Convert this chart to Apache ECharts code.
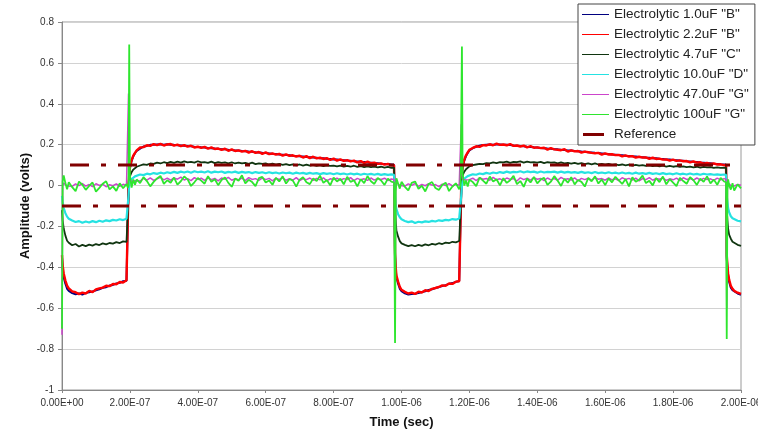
<!DOCTYPE html>
<html>
<head>
<meta charset="utf-8">
<script src="https://cdn.jsdelivr.net/npm/echarts@6/dist/echarts.min.js"></script>
<style>
  html, body { margin: 0; padding: 0; background: #ffffff; }
  #chart { width: 758px; height: 433px; }
</style>
</head>
<body>
<div id="chart"></div>
<script>
// Sample times in microseconds (scope capture, two cycles of the square drive)
const TIME_US = [
  // low phase 1
  0, 0.002, 0.005, 0.01, 0.015, 0.02,
  0.03, 0.04, 0.05, 0.06, 0.07, 0.08, 0.09, 0.10, 0.11, 0.12, 0.13, 0.14, 0.15, 0.16, 0.17, 0.18, 0.19,
  0.194,
  // rising edge + high phase 1
  0.196, 0.198, 0.2, 0.205, 0.21, 0.215,
  0.22, 0.23, 0.24, 0.25, 0.26, 0.27, 0.28, 0.29, 0.30, 0.31,
  0.32, 0.33, 0.34, 0.35, 0.36, 0.37, 0.38, 0.39, 0.40, 0.41,
  0.42, 0.43, 0.44, 0.45, 0.46, 0.47, 0.48, 0.49, 0.50, 0.51,
  0.52, 0.53, 0.54, 0.55, 0.56, 0.57, 0.58, 0.59, 0.60, 0.61,
  0.62, 0.63, 0.64, 0.65, 0.66, 0.67, 0.68, 0.69, 0.70, 0.71,
  0.72, 0.73, 0.74, 0.75, 0.76, 0.77, 0.78, 0.79, 0.80, 0.81,
  0.82, 0.83, 0.84, 0.85, 0.86, 0.87, 0.88, 0.89, 0.90, 0.91,
  0.92, 0.93, 0.94, 0.95, 0.96, 0.97,
  0.978,
  // falling edge + low phase 2
  0.981, 0.983, 0.985, 0.99, 0.995, 1.0,
  1.01, 1.02, 1.03, 1.04, 1.05, 1.06, 1.07, 1.08, 1.09, 1.10, 1.11, 1.12, 1.13, 1.14, 1.15, 1.16, 1.17,
  1.174,
  // rising edge + high phase 2
  1.176, 1.178, 1.18, 1.185, 1.19, 1.195,
  1.20, 1.21, 1.22, 1.23, 1.24, 1.25, 1.26, 1.27, 1.28, 1.29,
  1.30, 1.31, 1.32, 1.33, 1.34, 1.35, 1.36, 1.37, 1.38, 1.39,
  1.40, 1.41, 1.42, 1.43, 1.44, 1.45, 1.46, 1.47, 1.48, 1.49,
  1.50, 1.51, 1.52, 1.53, 1.54, 1.55, 1.56, 1.57, 1.58, 1.59,
  1.60, 1.61, 1.62, 1.63, 1.64, 1.65, 1.66, 1.67, 1.68, 1.69,
  1.70, 1.71, 1.72, 1.73, 1.74, 1.75, 1.76, 1.77, 1.78, 1.79,
  1.80, 1.81, 1.82, 1.83, 1.84, 1.85, 1.86, 1.87, 1.88, 1.89,
  1.90, 1.91, 1.92, 1.93, 1.94, 1.95,
  1.956,
  // falling edge + start of low phase 3
  1.958, 1.96, 1.962, 1.965, 1.97, 1.975, 1.98, 1.99, 2.0
];

// Measured amplitude (volts) per capacitor, aligned with TIME_US
const V_1_0UF_B = [
  -0.35, -0.41, -0.45, -0.48, -0.505, -0.515,
  -0.526, -0.532, -0.528, -0.533, -0.525, -0.522, -0.518, -0.512, -0.507, -0.5, -0.497, -0.489, -0.486, -0.479, -0.476, -0.468, -0.466,
  -0.461,
  0.0, 0.045, 0.085, 0.12, 0.143, 0.158,
  0.17, 0.181, 0.191, 0.194, 0.199, 0.2, 0.201, 0.202, 0.2, 0.202,
  0.199, 0.199, 0.197, 0.196, 0.195, 0.193, 0.192, 0.19, 0.189, 0.187,
  0.186, 0.184, 0.183, 0.181, 0.18, 0.178, 0.177, 0.175, 0.174, 0.172,
  0.171, 0.169, 0.168, 0.166, 0.165, 0.163, 0.162, 0.16, 0.159, 0.157,
  0.155, 0.154, 0.152, 0.151, 0.149, 0.148, 0.146, 0.145, 0.143, 0.142,
  0.14, 0.139, 0.137, 0.136, 0.134, 0.133, 0.131, 0.13, 0.128, 0.127,
  0.125, 0.124, 0.122, 0.121, 0.119, 0.118, 0.116, 0.115, 0.113, 0.112,
  0.11, 0.109, 0.107, 0.106, 0.104, 0.103,
  0.102,
  -0.34, -0.41, -0.45, -0.48, -0.505, -0.516,
  -0.527, -0.533, -0.53, -0.529, -0.526, -0.521, -0.517, -0.511, -0.507, -0.501, -0.497, -0.491, -0.487, -0.481, -0.477, -0.471, -0.467,
  -0.463,
  0.0, 0.05, 0.09, 0.122, 0.144, 0.159,
  0.172, 0.183, 0.19, 0.195, 0.198, 0.2, 0.201, 0.2, 0.201, 0.201,
  0.2, 0.199, 0.198, 0.196, 0.195, 0.193, 0.192, 0.19, 0.189, 0.187,
  0.186, 0.184, 0.183, 0.181, 0.18, 0.178, 0.177, 0.175, 0.174, 0.172,
  0.171, 0.169, 0.168, 0.166, 0.165, 0.163, 0.162, 0.16, 0.159, 0.157,
  0.155, 0.154, 0.152, 0.151, 0.149, 0.148, 0.146, 0.145, 0.143, 0.142,
  0.14, 0.139, 0.137, 0.136, 0.134, 0.133, 0.131, 0.13, 0.128, 0.127,
  0.125, 0.124, 0.122, 0.121, 0.119, 0.118, 0.116, 0.115, 0.113, 0.112,
  0.11, 0.109, 0.107, 0.106, 0.104, 0.103,
  0.102,
  -0.35, -0.4, -0.44, -0.47, -0.5, -0.512, -0.52, -0.528, -0.534
];

const V_2_2UF_B = [
  -0.34, -0.39, -0.43, -0.465, -0.49, -0.503,
  -0.518, -0.522, -0.531, -0.524, -0.528, -0.515, -0.521, -0.508, -0.503, -0.499, -0.49, -0.492, -0.481, -0.483, -0.472, -0.474, -0.463,
  -0.46,
  0.0, 0.05, 0.09, 0.125, 0.146, 0.16,
  0.172, 0.186, 0.188, 0.197, 0.194, 0.203, 0.198, 0.204, 0.196, 0.201,
  0.203, 0.195, 0.2, 0.193, 0.198, 0.19, 0.195, 0.186, 0.19, 0.184,
  0.189, 0.18, 0.187, 0.179, 0.181, 0.175, 0.18, 0.17, 0.177, 0.169,
  0.172, 0.166, 0.17, 0.161, 0.168, 0.16, 0.164, 0.155, 0.162, 0.154,
  0.157, 0.151, 0.155, 0.146, 0.153, 0.145, 0.148, 0.142, 0.146, 0.137,
  0.144, 0.134, 0.141, 0.133, 0.136, 0.13, 0.134, 0.125, 0.132, 0.122,
  0.128, 0.121, 0.124, 0.118, 0.122, 0.113, 0.12, 0.11, 0.117, 0.109,
  0.112, 0.106, 0.108, 0.102, 0.106, 0.099,
  0.101,
  -0.33, -0.4, -0.44, -0.47, -0.495, -0.51,
  -0.52, -0.528, -0.524, -0.53, -0.519, -0.523, -0.512, -0.516, -0.505, -0.501, -0.496, -0.488, -0.49, -0.479, -0.481, -0.47, -0.468,
  -0.462,
  0.0, 0.06, 0.095, 0.128, 0.148, 0.162,
  0.175, 0.184, 0.192, 0.189, 0.198, 0.196, 0.202, 0.197, 0.205, 0.199,
  0.201, 0.197, 0.203, 0.194, 0.196, 0.191, 0.195, 0.187, 0.193, 0.185,
  0.187, 0.183, 0.185, 0.176, 0.183, 0.177, 0.175, 0.173, 0.178, 0.166,
  0.172, 0.167, 0.169, 0.161, 0.166, 0.163, 0.16, 0.158, 0.16, 0.151,
  0.157, 0.152, 0.153, 0.149, 0.15, 0.143, 0.148, 0.142, 0.144, 0.137,
  0.141, 0.137, 0.138, 0.131, 0.136, 0.13, 0.132, 0.127, 0.128, 0.122,
  0.127, 0.121, 0.123, 0.119, 0.12, 0.113, 0.118, 0.112, 0.114, 0.107,
  0.111, 0.106, 0.108, 0.103, 0.104, 0.1,
  0.101,
  -0.34, -0.39, -0.43, -0.46, -0.49, -0.505, -0.515, -0.524, -0.53
];

const V_4_7UF_C = [
  -0.12, -0.17, -0.21, -0.245, -0.27, -0.28,
  -0.292, -0.286, -0.298, -0.29, -0.296, -0.289, -0.294, -0.286, -0.291, -0.283, -0.288, -0.281, -0.284, -0.277, -0.281, -0.273, -0.276,
  -0.27,
  -0.05, 0.02, 0.045, 0.065, 0.078, 0.087,
  0.092, 0.098, 0.104, 0.101, 0.108, 0.106, 0.112, 0.108, 0.114, 0.11,
  0.116, 0.111, 0.117, 0.112, 0.118, 0.113, 0.116, 0.112, 0.119, 0.113,
  0.115, 0.111, 0.117, 0.11, 0.115, 0.111, 0.113, 0.109, 0.114, 0.108,
  0.112, 0.108, 0.111, 0.106, 0.112, 0.105, 0.109, 0.106, 0.108, 0.103,
  0.107, 0.102, 0.106, 0.101, 0.105, 0.1, 0.104, 0.099, 0.103, 0.098,
  0.102, 0.097, 0.101, 0.096, 0.1, 0.095, 0.099, 0.096, 0.098, 0.094,
  0.097, 0.093, 0.096, 0.092, 0.097, 0.091, 0.095, 0.09, 0.094, 0.09,
  0.093, 0.089, 0.092, 0.088, 0.091, 0.087,
  0.088,
  -0.11, -0.17, -0.22, -0.25, -0.272, -0.283,
  -0.29, -0.296, -0.291, -0.297, -0.29, -0.295, -0.288, -0.292, -0.285, -0.289, -0.282, -0.286, -0.279, -0.282, -0.275, -0.278, -0.271,
  -0.268,
  -0.05, 0.025, 0.05, 0.068, 0.08, 0.088,
  0.094, 0.1, 0.103, 0.106, 0.105, 0.11, 0.108, 0.113, 0.11, 0.115,
  0.113, 0.117, 0.111, 0.116, 0.114, 0.118, 0.112, 0.117, 0.113, 0.115,
  0.112, 0.116, 0.11, 0.114, 0.112, 0.113, 0.108, 0.113, 0.109, 0.111,
  0.107, 0.111, 0.106, 0.11, 0.105, 0.109, 0.104, 0.108, 0.103, 0.106,
  0.102, 0.106, 0.101, 0.104, 0.1, 0.103, 0.099, 0.102, 0.098, 0.101,
  0.097, 0.1, 0.096, 0.099, 0.095, 0.098, 0.094, 0.097, 0.093, 0.096,
  0.092, 0.095, 0.091, 0.094, 0.09, 0.093, 0.089, 0.092, 0.088, 0.091,
  0.089, 0.09, 0.087, 0.089, 0.086, 0.088,
  0.087,
  -0.12, -0.17, -0.21, -0.24, -0.26, -0.275, -0.283, -0.29, -0.295
];

const V_10_0UF_D = [
  -0.05, -0.08, -0.11, -0.135, -0.152, -0.162,
  -0.171, -0.178, -0.174, -0.182, -0.176, -0.181, -0.174, -0.179, -0.172, -0.177, -0.17, -0.174, -0.168, -0.171, -0.165, -0.169, -0.162,
  -0.16,
  -0.05, 0.0, 0.02, 0.032, 0.04, 0.045,
  0.05, 0.054, 0.051, 0.058, 0.055, 0.061, 0.057, 0.063, 0.059, 0.065,
  0.061, 0.067, 0.062, 0.068, 0.064, 0.069, 0.063, 0.07, 0.065, 0.068,
  0.064, 0.07, 0.063, 0.068, 0.065, 0.069, 0.062, 0.067, 0.064, 0.068,
  0.062, 0.067, 0.063, 0.066, 0.061, 0.066, 0.062, 0.065, 0.06, 0.065,
  0.061, 0.064, 0.059, 0.064, 0.06, 0.063, 0.058, 0.063, 0.059, 0.062,
  0.057, 0.062, 0.058, 0.061, 0.056, 0.061, 0.057, 0.06, 0.055, 0.06,
  0.056, 0.059, 0.054, 0.059, 0.055, 0.058, 0.053, 0.058, 0.054, 0.057,
  0.053, 0.057, 0.052, 0.056, 0.052, 0.055,
  0.053,
  -0.05, -0.09, -0.115, -0.14, -0.155, -0.165,
  -0.173, -0.179, -0.175, -0.183, -0.177, -0.18, -0.175, -0.178, -0.173, -0.176, -0.17, -0.173, -0.168, -0.17, -0.164, -0.167, -0.161,
  -0.158,
  -0.05, 0.0, 0.022, 0.034, 0.041, 0.046,
  0.051, 0.055, 0.053, 0.059, 0.056, 0.062, 0.058, 0.064, 0.06, 0.066,
  0.062, 0.068, 0.063, 0.067, 0.065, 0.07, 0.064, 0.069, 0.066, 0.068,
  0.063, 0.069, 0.064, 0.067, 0.066, 0.068, 0.063, 0.068, 0.063, 0.067,
  0.063, 0.066, 0.062, 0.067, 0.062, 0.065, 0.061, 0.066, 0.061, 0.064,
  0.06, 0.065, 0.06, 0.063, 0.059, 0.064, 0.059, 0.062, 0.058, 0.063,
  0.058, 0.061, 0.057, 0.062, 0.057, 0.06, 0.056, 0.061, 0.056, 0.059,
  0.055, 0.06, 0.055, 0.058, 0.054, 0.059, 0.054, 0.057, 0.053, 0.058,
  0.054, 0.056, 0.053, 0.055, 0.052, 0.054,
  0.053,
  -0.05, -0.08, -0.11, -0.13, -0.15, -0.16, -0.167, -0.172, -0.175
];

const V_47_0UF_G = [
  -0.73, 0.0, 0.012, 0.004, -0.002, 0.006,
  -0.004, 0.008, 0.0, 0.01, -0.003, 0.005, -0.005, 0.009, 0.001, 0.007, -0.006, 0.004, -0.001, 0.008, -0.004, 0.006, 0.0,
  0.004,
  0.45, 0.06, 0.03, 0.02, 0.028, 0.024,
  0.03, 0.022, 0.035, 0.027, 0.038, 0.025, 0.033, 0.04, 0.028, 0.036,
  0.026, 0.037, 0.031, 0.041, 0.027, 0.034, 0.024, 0.039, 0.03, 0.036,
  0.025, 0.038, 0.029, 0.035, 0.023, 0.037, 0.031, 0.04, 0.026, 0.033,
  0.028, 0.036, 0.024, 0.039, 0.03, 0.034, 0.025, 0.037, 0.029, 0.035,
  0.023, 0.036, 0.03, 0.038, 0.026, 0.033, 0.027, 0.039, 0.024, 0.034,
  0.029, 0.037, 0.025, 0.035, 0.028, 0.038, 0.023, 0.033, 0.03, 0.036,
  0.026, 0.034, 0.029, 0.039, 0.024, 0.035, 0.028, 0.033, 0.025, 0.037,
  0.027, 0.034, 0.03, 0.036, 0.025, 0.032,
  0.03,
  -0.6, -0.02, 0.014, 0.008, 0.001, 0.007,
  -0.003, 0.008, 0.001, 0.01, -0.004, 0.006, -0.001, 0.009, 0.002, 0.005, -0.005, 0.007, 0.0, 0.009, -0.002, 0.006, 0.001,
  0.004,
  0.3, 0.05, 0.03, 0.022, 0.027, 0.025,
  0.029, 0.036, 0.024, 0.038, 0.031, 0.035, 0.026, 0.04, 0.028, 0.033,
  0.025, 0.037, 0.03, 0.034, 0.022, 0.038, 0.029, 0.036, 0.027, 0.039,
  0.031, 0.035, 0.024, 0.037, 0.028, 0.034, 0.026, 0.04, 0.03, 0.033,
  0.027, 0.038, 0.023, 0.035, 0.029, 0.036, 0.025, 0.039, 0.031, 0.034,
  0.026, 0.037, 0.028, 0.033, 0.024, 0.038, 0.03, 0.035, 0.027, 0.036,
  0.023, 0.034, 0.029, 0.039, 0.026, 0.035, 0.031, 0.037, 0.025, 0.033,
  0.028, 0.036, 0.024, 0.038, 0.03, 0.034, 0.027, 0.037, 0.026, 0.035,
  0.029, 0.033, 0.025, 0.036, 0.028, 0.034,
  0.03,
  -0.6, -0.02, 0.014, 0.006, 0.0, 0.007, -0.002, 0.005, 0.001
];

const V_100UF_G = [
  -0.70, 0.02, 0.05, 0.012, -0.018, 0.016,
  -0.008, -0.027, 0.019, 0.004, -0.021, -0.002, 0.015, -0.03, -0.011, 0.009, 0.021, -0.019, -0.004, -0.026, 0.011, -0.013, 0.007,
  -0.01,
  0.0, 0.69, 0.05, -0.01, 0.03, 0.004,
  0.03, 0.012, 0.041, 0.022, -0.004, 0.018, 0.035, 0.047, 0.008, 0.026,
  0.014, 0.039, 0.005, 0.021, 0.044, 0.03, -0.002, 0.016, 0.037, 0.024,
  0.009, 0.046, 0.019, 0.031, 0.002, 0.027, 0.04, 0.013, -0.006, 0.034,
  0.023, 0.05, 0.011, 0.028, 0.017, -0.003, 0.036, 0.042, 0.015, 0.025,
  0.004, 0.038, 0.02, 0.045, 0.01, 0.032, 0.024, -0.005, 0.029, 0.041,
  0.016, 0.007, 0.035, 0.022, 0.048, 0.013, 0.027, 0.001, 0.039, 0.02,
  0.033, 0.006, 0.043, 0.018, 0.026, -0.004, 0.031, 0.012, 0.046, 0.021,
  0.008, 0.037, 0.025, 0.003, 0.034, 0.019,
  0.015,
  -0.77, -0.03, 0.035, 0.01, -0.015, 0.018,
  -0.006, -0.024, 0.013, 0.02, -0.016, -0.001, -0.029, 0.008, 0.017, -0.012, -0.022, 0.003, 0.014, -0.027, -0.005, 0.011, -0.018,
  0.002,
  0.0, 0.68, 0.06, 0.0, 0.025, -0.005,
  0.028, 0.017, -0.003, 0.039, 0.024, 0.009, 0.044, 0.02, 0.031, 0.001,
  0.036, 0.013, 0.026, 0.048, 0.007, 0.022, -0.006, 0.034, 0.015, 0.042,
  0.011, 0.029, 0.038, 0.003, 0.019, 0.046, 0.024, -0.002, 0.033, 0.014,
  0.041, 0.006, 0.027, 0.018, -0.005, 0.037, 0.021, 0.045, 0.01, 0.03,
  0.002, 0.035, 0.016, 0.043, 0.025, 0.008, 0.032, -0.004, 0.04, 0.019,
  0.028, 0.049, 0.012, 0.023, 0.001, 0.036, 0.017, 0.044, 0.006, 0.031,
  0.014, -0.003, 0.038, 0.022, 0.009, 0.041, 0.026, 0.003, 0.034, 0.018,
  0.045, 0.011, 0.029, 0.004, 0.037, 0.02,
  0.016,
  -0.75, -0.02, 0.03, 0.002, -0.02, 0.012, -0.025, 0.006, -0.014
];

// Reference limits (volts) drawn across the full time span
const REF_LEVELS = [0.1, -0.1];
const REF_SPAN_US = [0, 2];

// Axis ranges and steps
const X_RANGE = [0, 2, 0.2];
const Y_RANGE = [-1, 0.8, 0.2];

const TRACES = [
  { name: 'Electrolytic 1.0uF "B"',  values: V_1_0UF_B,  color: '#000080', width: 2 },
  { name: 'Electrolytic 2.2uF "B"',  values: V_2_2UF_B,  color: '#ff0000', width: 2.4 },
  { name: 'Electrolytic 4.7uF "C"',  values: V_4_7UF_C,  color: '#103510', width: 1.8 },
  { name: 'Electrolytic 10.0uF "D"', values: V_10_0UF_D, color: '#25e2e2', width: 2.2 },
  { name: 'Electrolytic 47.0uF "G"', values: V_47_0UF_G, color: '#cc44cc', width: 1.5 },
  { name: 'Electrolytic 100uF "G"',  values: V_100UF_G,  color: '#2ee62e', width: 1.8 }
];

const REF_NAME = 'Reference';
const REF_COLOR = '#800000';

function sciLabel(us) {
  if (Math.abs(us) < 1e-12) return '0.00E+00';
  const s = us * 1e-6;
  const e = Math.floor(Math.log10(s) + 1e-9);
  const m = s / Math.pow(10, e);
  return m.toFixed(2) + 'E' + (e < 0 ? '-' : '+') + String(Math.abs(e)).padStart(2, '0');
}

const FONT = '"Liberation Sans", Arial, sans-serif';

const series = TRACES.map(tr => ({
  name: tr.name,
  type: 'line',
  data: TIME_US.map((t, i) => [t, tr.values[i]]),
  showSymbol: false,
  symbol: 'none',
  color: tr.color,
  lineStyle: { color: tr.color, width: tr.width },
  silent: true
}));

// two dash-dot reference limits; the upper one starts mid-gap
REF_LEVELS.forEach((lvl, k) => {
  series.push({
    name: REF_NAME,
    type: 'line',
    data: REF_SPAN_US.map(t => [t, lvl]),
    showSymbol: false,
    symbol: 'none',
    color: REF_COLOR,
    lineStyle: { color: REF_COLOR, width: 3, type: [19, 12, 5, 12], dashOffset: k === 0 ? 40 : 0 },
    silent: true,
    z: 3
  });
});

const chart = echarts.init(document.getElementById('chart'), null, { renderer: 'canvas' });
chart.setOption({
  animation: false,
  backgroundColor: '#ffffff',
  grid: {
    left: 62, right: 17, top: 22, bottom: 43,
    outerBoundsMode: 'none',
    containLabel: false,
    show: true, borderColor: '#9a9a9a', borderWidth: 1, backgroundColor: 'transparent'
  },
  legend: [
    {
      data: TRACES.map(tr => ({ name: tr.name, icon: 'rect' })),
      orient: 'vertical',
      left: 578, top: 4,
      padding: [3, 6, 23, 4],
      itemWidth: 27, itemHeight: 1, itemGap: 5,
      selectedMode: false,
      backgroundColor: '#ffffff',
      borderColor: '#444444', borderWidth: 1,
      textStyle: { fontFamily: FONT, fontSize: 13.5, color: '#222222', lineHeight: 15 }
    },
    {
      data: [{ name: REF_NAME, icon: 'rect' }],
      orient: 'vertical',
      left: 583, top: 127,
      padding: 0,
      itemWidth: 21, itemHeight: 3,
      selectedMode: false,
      textStyle: { fontFamily: FONT, fontSize: 13.5, color: '#222222', lineHeight: 15, padding: [0, 0, 0, 5] }
    }
  ],
  xAxis: {
    type: 'value',
    min: X_RANGE[0], max: X_RANGE[1], interval: X_RANGE[2],
    name: 'Time (sec)',
    nameLocation: 'middle', nameGap: 26, nameMoveOverlap: false,
    nameTextStyle: { fontFamily: FONT, fontSize: 13, fontWeight: 'bold', color: '#111111' },
    axisLine: { onZero: false, lineStyle: { color: '#888888', width: 1 } },
    axisTick: { show: true, length: 3, lineStyle: { color: '#888888' } },
    axisLabel: { formatter: sciLabel, fontFamily: FONT, fontSize: 10, color: '#333333', margin: 8 },
    splitLine: { show: false }
  },
  yAxis: {
    type: 'value',
    min: Y_RANGE[0], max: Y_RANGE[1], interval: Y_RANGE[2],
    name: 'Amplitude (volts)',
    nameLocation: 'middle', nameGap: 30, nameRotate: 90, nameMoveOverlap: false,
    nameTextStyle: { fontFamily: FONT, fontSize: 13, fontWeight: 'bold', color: '#111111' },
    axisLine: { show: true, lineStyle: { color: '#888888', width: 1 } },
    axisTick: { show: true, length: 4, lineStyle: { color: '#888888' } },
    axisLabel: {
      formatter: v => String(Number(v.toFixed(1))),
      fontFamily: FONT, fontSize: 10, color: '#333333', margin: 8
    },
    splitLine: { show: true, lineStyle: { color: '#d2d2d2', width: 1 } }
  },
  series: series
});
</script>
</body>
</html>
